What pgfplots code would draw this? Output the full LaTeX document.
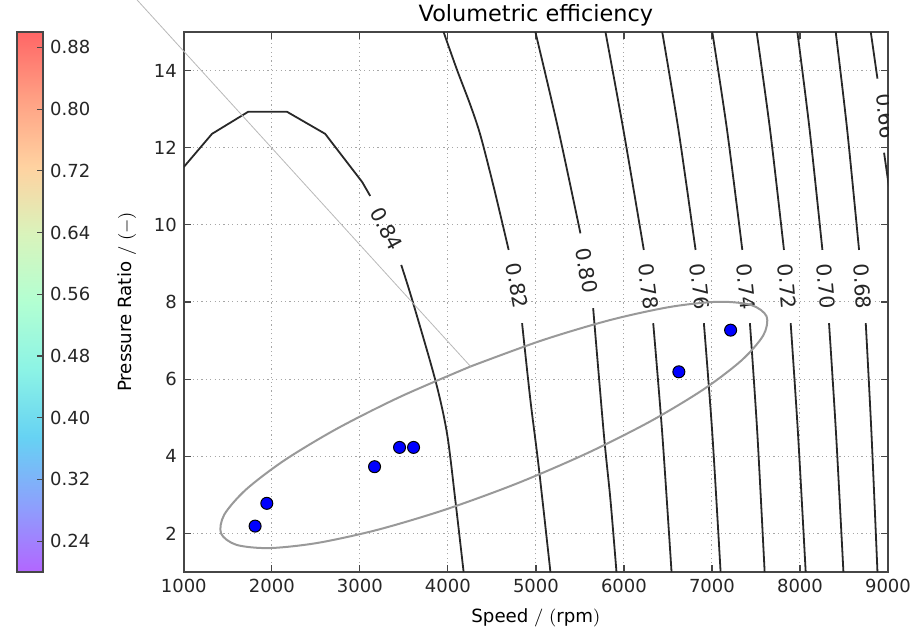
\documentclass[border=0pt]{standalone}
\usepackage{fontspec}
\setmainfont{DejaVu Sans}
\usepackage{pgfplots}
\pgfplotsset{compat=1.18}
\pgfplotsset{
  colormap={mplrainbow}{rgb=(0.7,0.4,1.0) rgb=(0.55,0.63,0.99) rgb=(0.4,0.824,0.954) rgb=(0.55,0.954,0.899) rgb=(0.7,1,0.824) rgb=(0.85,0.954,0.734) rgb=(1,0.824,0.630) rgb=(1,0.63,0.517) rgb=(1,0.4,0.4)}
}
\definecolor{cline}{RGB}{40,40,40}
\definecolor{frame}{RGB}{70,70,70}
\newcommand{\clab}{\fontsize{10.2}{11}\selectfont}
\begin{document}
\begin{tikzpicture}
\useasboundingbox (0,0) rectangle (460.5pt,316pt);
\begin{axis}[
  name=main,
  at={(91.9pt,30pt)}, anchor=south west,
  scale only axis, width=352.1pt, height=270pt,
  xmin=1000, xmax=9000, ymin=1, ymax=15,
  xtick={1000,2000,3000,4000,5000,6000,7000,8000,9000},
  ytick={2,4,6,8,10,12,14},
  scaled x ticks=false,
  /pgf/number format/1000 sep={},
  /pgf/number format/assume math mode=true,
  tick label style={font=\fontsize{9}{10}\selectfont, text=black!85},
  xtick pos=both, ytick pos=both,
  xticklabel pos=lower, yticklabel pos=left,
  tick align=inside,
  major tick length=3.5pt,
  tick style={frame, line width=0.6pt},
  axis line style={frame, line width=0.8pt},
  grid=major,
  grid style={black!35, line width=0.5pt, dash pattern=on 0.6pt off 1.6pt},
  every axis title shift=0pt,
  title={Volumetric efficiency},
  title style={font=\fontsize{11.2}{13}\selectfont, at={(axis description cs:0.5,1)}, anchor=base, yshift=5.3pt},
  xlabel={Speed $/\ (\mathrm{rpm})$},
  xlabel style={font=\fontsize{9.1}{10}\selectfont, at={(axis description cs:0.5,-0.0944)}, anchor=base},
  ylabel={Pressure Ratio $/\ (-)$},
  ylabel style={font=\fontsize{9.1}{10}\selectfont, at={(axis description cs:-0.0807,0.5)}, anchor=center, rotate=0},
  colormap name=mplrainbow,
  point meta min=0.2, point meta max=0.9,
  colorbar,
  colorbar style={
    at={(parent axis.south west)}, anchor=south west, xshift=-91.9pt,
    scale only axis, width=13pt, height=270pt,
    ymin=0.2, ymax=0.9,
    ytick={0.24,0.32,0.40,0.48,0.56,0.64,0.72,0.80,0.88},
    yticklabel style={/pgf/number format/.cd, fixed, fixed zerofill, precision=2, assume math mode=true},
    tick label style={font=\fontsize{9}{10}\selectfont, text=black!85},
    ytick pos=right, yticklabel pos=right,
    tick align=inside, major tick length=3pt,
    tick style={frame, line width=0.6pt},
    axis line style={frame, line width=0.8pt},
  },
]
% contour 0.84
\addplot[cline, line width=0.9pt] coordinates {(1000,11.50) (1320.7,12.36) (1730.1,12.93) (2173.7,12.93) (2605.9,12.36) (3026.7,11.11) (3117.7,10.75)};
\addplot[cline, line width=0.9pt, smooth] coordinates {(3470.2,8.96) (3595.3,8.05) (3856.9,5.978) (3990,4.595) (4084.4,2.865) (4178.8,1.0)};
% 0.82
\addplot[cline, line width=0.9pt, smooth] coordinates {(3951.3,15.0) (4103.6,14.02) (4254.9,13.11) (4368.6,12.33) (4519.9,10.99) (4690.5,9.35)};
\addplot[cline, line width=0.9pt, smooth] coordinates {(4842.9,7.45) (4937.3,5.46) (5031.7,3.73) (5165.0,1.0)};
% 0.80
\addplot[cline, line width=0.9pt, smooth] coordinates {(4994.2,15.0) (5255.8,12.46) (5505.9,9.78)};
\addplot[cline, line width=0.9pt, smooth] coordinates {(5650.4,7.84) (5771.0,4.595) (5847.2,2.865) (5915.4,1.0)};
% 0.78
\addplot[cline, line width=0.9pt, smooth] coordinates {(5790.3,15) (5995.0,12.45) (6225.9,9.35)};
\addplot[cline, line width=0.9pt, smooth] coordinates {(6332.8,7.45) (6435.2,4.595) (6540.9,1)};
% 0.76
\addplot[cline, line width=0.9pt, smooth] coordinates {(6435.2,15) (6620.5,12.45) (6813.9,9.35)};
\addplot[cline, line width=0.9pt, smooth] coordinates {(6908.3,7.45) (7003.9,4.595) (7098.2,1)};
% 0.74
\addplot[cline, line width=0.9pt, smooth] coordinates {(7003.8,15) (7172.1,12.45) (7345.0,9.35)};
\addplot[cline, line width=0.9pt, smooth] coordinates {(7431.4,7.45) (7515.5,4.595) (7598.6,1)};
% 0.72
\addplot[cline, line width=0.9pt, smooth] coordinates {(7507.6,15) (7661.1,12.45) (7818.1,9.35)};
\addplot[cline, line width=0.9pt, smooth] coordinates {(7894.3,7.45) (7977.3,4.595) (8064.9,1)};
% 0.70
\addplot[cline, line width=0.9pt, smooth] coordinates {(7970.5,15) (8110.4,12.45) (8254.8,9.35)};
\addplot[cline, line width=0.9pt, smooth] coordinates {(8329.9,7.45) (8409.5,4.595) (8493.6,1)};
% 0.68
\addplot[cline, line width=0.9pt, smooth] coordinates {(8406.1,15) (8536.9,12.45) (8671.1,9.35)};
\addplot[cline, line width=0.9pt, smooth] coordinates {(8747.3,7.45) (8812.1,4.595) (8880.3,1)};
% 0.66
\addplot[cline, line width=0.9pt] coordinates {(8804.1,15) (8880.3,13.79)};
\addplot[cline, line width=0.9pt] coordinates {(8955.4,11.87) (8994.1,11.25) (9010,11.0)};
% contour labels
\node[rotate=-62, font=\clab, text=black!85] at (axis cs:3305.3,9.895) {0.84};
\node[rotate=-79.6, font=\clab, text=black!85] at (axis cs:4789.5,8.416) {0.82};
\node[rotate=-80.4, font=\clab, text=black!85] at (axis cs:5578.8,8.81) {0.80};
\node[rotate=-82.7, font=\clab, text=black!85] at (axis cs:6279.3,8.40) {0.78};
\node[rotate=-83.5, font=\clab, text=black!85] at (axis cs:6861.6,8.40) {0.76};
\node[rotate=-84.1, font=\clab, text=black!85] at (axis cs:7388.2,8.40) {0.74};
\node[rotate=-84.8, font=\clab, text=black!85] at (axis cs:7856.8,8.40) {0.72};
\node[rotate=-84.9, font=\clab, text=black!85] at (axis cs:8292.4,8.40) {0.70};
\node[rotate=-84.8, font=\clab, text=black!85] at (axis cs:8709.8,8.40) {0.68};
\node[rotate=-84.9, font=\clab, text=black!85] at (axis cs:8975,12.82) {0.66};
% ellipse
\addplot[black!40, line width=1pt, smooth] coordinates {
(4257.6,6.329) (3464.5,5.549) (2743.4,4.720) (2143.6,3.897) (1706.0,3.136) (1460.2,2.489)
(1422.9,2.001) (1597.0,1.705) (1970.4,1.620) (2517.6,1.753) (3201.4,2.094) (3975.3,2.621)
(4786.4,3.297) (5579.5,4.077) (6300.6,4.906) (6900.4,5.729) (7338.0,6.490) (7583.8,7.137)
(7621.1,7.625) (7447.0,7.921) (7073.6,8.006) (6526.4,7.873) (5842.6,7.532) (5068.7,7.005)
(4257.6,6.329)};
% measured points
\addplot[only marks, mark=*, mark size=3pt, mark options={fill=blue, draw=black, line width=0.5pt}] coordinates {
(1810,2.19) (1943,2.78) (3167,3.73) (3451,4.23) (3610,4.23) (6624,6.19) (7212,7.27)};
\end{axis}
\begin{axis}[
  at={(91.9pt,30pt)}, anchor=south west,
  scale only axis, width=352.1pt, height=270pt,
  xmin=1000, xmax=9000, ymin=1, ymax=15,
  hide axis, clip=false,
]
\addplot[black!28, line width=0.4pt] coordinates {(402,16.0) (4257.6,6.329)};
\end{axis}
\end{tikzpicture}
\end{document}
